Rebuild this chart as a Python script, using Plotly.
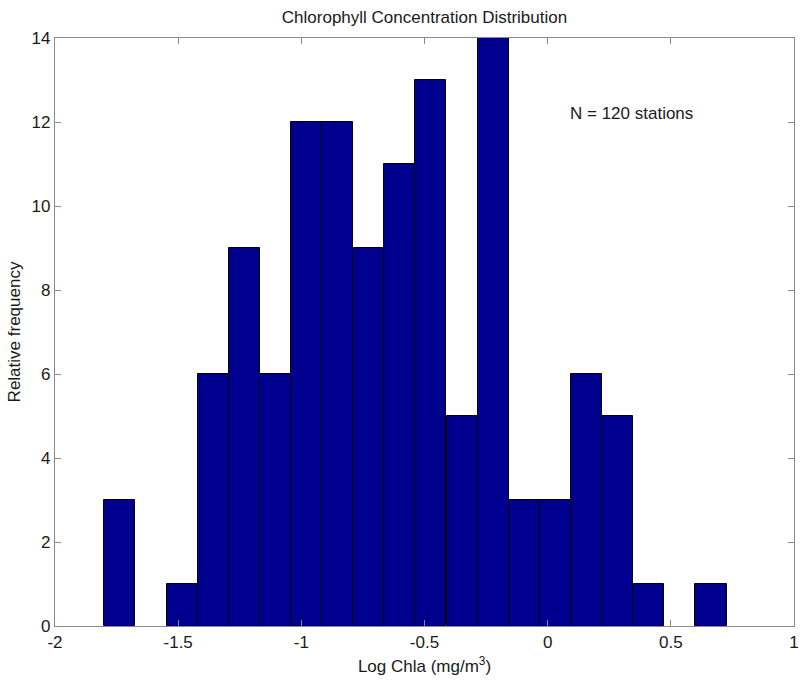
import plotly.graph_objects as go

bin_centers = [-1.737, -1.611, -1.484, -1.358, -1.232, -1.105, -0.979, -0.853, -0.726, -0.600,
               -0.474, -0.347, -0.221, -0.095, 0.032, 0.158, 0.284, 0.411, 0.537, 0.663]
counts = [3, 0, 1, 6, 9, 6, 12, 12, 9, 11, 13, 5, 14, 3, 3, 6, 5, 1, 0, 1]
bin_width = 0.1263
x_ticks = [-2, -1.5, -1, -0.5, 0, 0.5, 1]
x_tick_labels = ["-2", "-1.5", "-1", "-0.5", "0", "0.5", "1"]
y_ticks = [0, 2, 4, 6, 8, 10, 12, 14]

FAM = "Liberation Sans, Arial, sans-serif"
font = dict(family=FAM, size=17, color="#1a1a1a")

fig = go.Figure()
fig.add_trace(go.Bar(
    x=bin_centers, y=counts, width=[bin_width] * len(counts),
    marker=dict(color="#00008F",
                line=dict(color="#000000", width=[1 if c > 0 else 0 for c in counts])),
    showlegend=False,
))

axis_common = dict(
    showline=True, linecolor="#8a8a8a", linewidth=1.3, mirror="ticks",
    ticks="inside", ticklen=6, tickcolor="#8a8a8a", tickwidth=1.2,
    showgrid=False, zeroline=False, tickfont=font,
)
fig.update_layout(
    width=804, height=683,
    margin=dict(l=55, r=5, t=38, b=57),
    plot_bgcolor="white", paper_bgcolor="white",
    font=font,
    title=dict(text="Chlorophyll Concentration Distribution", x=0.5, xref="paper", xanchor="center",
               y=1 - 17 / 683, yanchor="middle", font=font),
    xaxis=dict(range=[-2, 1], tickvals=x_ticks, ticktext=x_tick_labels,
               title=dict(text="Log Chla (mg/m<sup>3</sup>)", standoff=9, font=font), **axis_common),
    yaxis=dict(range=[0, 14], tickvals=y_ticks,
               title=dict(text="Relative frequency", standoff=6, font=font), **axis_common),
    bargap=0,
    annotations=[dict(text="N = 120 stations", x=0.081, y=12.21, xref="x", yref="y",
                      xanchor="left", yanchor="middle", showarrow=False, font=font)],
)

fig.write_html("out.html")
